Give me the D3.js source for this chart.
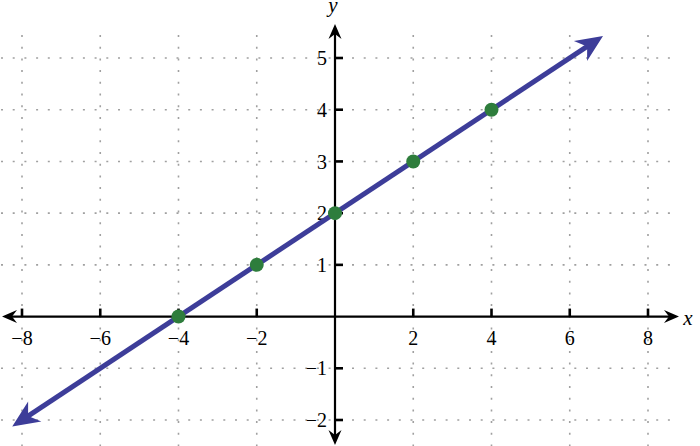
<!DOCTYPE html>
<html>
<head>
<meta charset="utf-8">
<script src="https://cdn.jsdelivr.net/npm/d3@7"></script>
<style>
  html, body { margin: 0; padding: 0; background: #fff; }
  svg { display: block; }
  text { font-family: "Liberation Serif", "Times New Roman", serif; }
</style>
</head>
<body>
<script>
// ---- data ----
const xTicks = [-8, -6, -4, -2, 2, 4, 6, 8];
const yTicks = [-2, -1, 1, 2, 3, 4, 5];
const pointsX = [-4, -2, 0, 2, 4];
const pointsY = [0, 1, 2, 3, 4];
const lineX = [-8.25, 6.85];           // extent of the drawn line
const slope = 0.5, intercept = 2;       // y = x/2 + 2

const W = 700, H = 446;
const svg = d3.select("body").append("svg").attr("width", W).attr("height", H);

const x = d3.scaleLinear().domain([-8, 8]).range([22, 648]);
const y = d3.scaleLinear().domain([-2, 5]).range([420, 58]);

// ---- grid ----
const grid = svg.append("g").attr("stroke", "#a0a0a0").attr("stroke-width", 1.6)
  .attr("stroke-dasharray", "2,9.7").attr("fill", "none");
grid.selectAll("line.v").data(xTicks).join("line").attr("class", "v")
  .attr("x1", d => x(d)).attr("x2", d => x(d))
  .attr("y1", 35).attr("y2", H);
grid.selectAll("line.h").data(yTicks).join("line").attr("class", "h")
  .attr("y1", d => y(d)).attr("y2", d => y(d))
  .attr("x1", 1).attr("x2", 670);

// ---- axes ----
const ax = svg.append("g");
const x0 = x(0), y0 = y(0);
ax.append("line").attr("x1", 8).attr("x2", 672).attr("y1", y0).attr("y2", y0)
  .attr("stroke", "#000").attr("stroke-width", 2.2);
ax.append("line").attr("x1", x0).attr("x2", x0).attr("y1", 31).attr("y2", 440)
  .attr("stroke", "#000").attr("stroke-width", 2.2);

function arrowHead(g, tx, ty, ang, len, half, notch, color) {
  g.append("path")
    .attr("d", `M0,0 L${-len},${-half} L${-notch},0 L${-len},${half} Z`)
    .attr("transform", `translate(${tx},${ty}) rotate(${ang})`)
    .attr("fill", color);
}
arrowHead(ax, 2, y0, 180, 15, 6.5, 10, "#000");
arrowHead(ax, 679, y0, 0, 15, 6.5, 10, "#000");
arrowHead(ax, x0, 24, -90, 15, 6.5, 10, "#000");
arrowHead(ax, x0, 445, 90, 15, 6.5, 10, "#000");

// ticks
ax.selectAll("line.xt").data(xTicks).join("line").attr("class", "xt")
  .attr("x1", d => x(d)).attr("x2", d => x(d)).attr("y1", y0).attr("y2", y0 - 8)
  .attr("stroke", "#000").attr("stroke-width", 2.6);
ax.selectAll("line.yt").data(yTicks).join("line").attr("class", "yt")
  .attr("y1", d => y(d)).attr("y2", d => y(d)).attr("x1", x0).attr("x2", x0 + 8)
  .attr("stroke", "#000").attr("stroke-width", 2.6);

const fmt = d => (d < 0 ? "\u2212" + Math.abs(d) : String(d));
ax.selectAll("text.xl").data(xTicks).join("text").attr("class", "xl")
  .attr("x", d => x(d)).attr("y", 345).attr("text-anchor", "middle")
  .attr("font-size", 20).text(fmt);
ax.selectAll("text.yl").data(yTicks).join("text").attr("class", "yl")
  .attr("x", 327).attr("y", d => y(d)).attr("dy", "0.36em").attr("text-anchor", "end")
  .attr("font-size", 20).text(fmt);

ax.append("text").attr("x", 688).attr("y", 325).attr("text-anchor", "middle")
  .attr("font-size", 21).attr("font-style", "italic").text("x");
ax.append("text").attr("x", 333).attr("y", 12).attr("text-anchor", "middle")
  .attr("font-size", 21).attr("font-style", "italic").text("y");

// ---- line ----
const blue = "#3d3d99";
const lp = lineX.map(v => [x(v), y(slope * v + intercept)]);
const angDeg = Math.atan2(lp[1][1] - lp[0][1], lp[1][0] - lp[0][0]) * 180 / Math.PI;
const rad = angDeg * Math.PI / 180;
const back = 18;
svg.append("line")
  .attr("x1", lp[0][0] + back * Math.cos(rad)).attr("y1", lp[0][1] + back * Math.sin(rad))
  .attr("x2", lp[1][0] - back * Math.cos(rad)).attr("y2", lp[1][1] - back * Math.sin(rad))
  .attr("stroke", blue).attr("stroke-width", 5);
arrowHead(svg, lp[1][0], lp[1][1], angDeg, 27, 12, 19, blue);
arrowHead(svg, lp[0][0], lp[0][1], angDeg + 180, 27, 12, 19, blue);

// ---- points ----
svg.selectAll("circle.p").data(pointsX.map((v, i) => [v, pointsY[i]])).join("circle")
  .attr("class", "p").attr("cx", d => x(d[0])).attr("cy", d => y(d[1]))
  .attr("r", 7).attr("fill", "#2e7d3c");
</script>
</body>
</html>
